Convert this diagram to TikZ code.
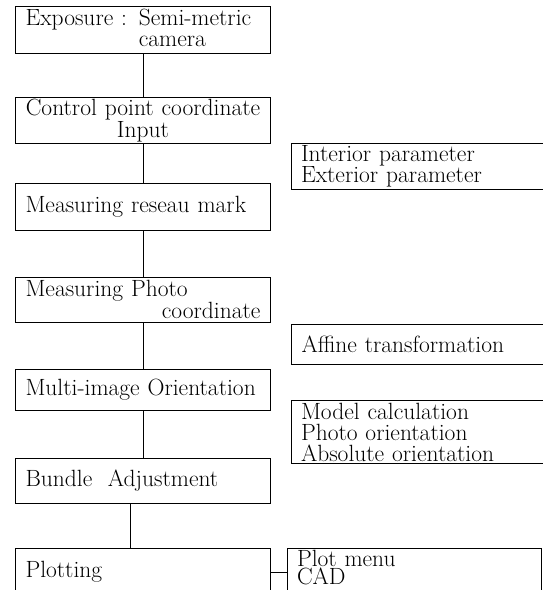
\documentclass[tikz,border=0pt]{standalone}
\begin{document}
\begin{tikzpicture}[x=1pt, y=-1pt,
  stepbox/.style={draw, line width=1pt, text width=235pt, inner xsep=10pt, inner ysep=2pt, align=left, font=\fontsize{23.5}{20}\selectfont},
  sidebox/.style={draw, line width=1pt, text width=237pt, inner xsep=10pt, inner ysep=2pt, align=left, font=\fontsize{23.5}{21}\selectfont}
]
  \useasboundingbox (0,0) rectangle (543,590);

  % Main column
  \node[stepbox, minimum height=44pt] (expo) at (143,30) {Exposure : Semi-metric\\\phantom{Exposure : }camera};
  \node[stepbox, minimum height=45pt, align=center] (ctrl) at (143,120.5) {Control point coordinate\\Input};
  \node[stepbox, minimum height=47pt] (reseau) at (143,206.5) {Measuring reseau\ mark};
  \node[stepbox, minimum height=45pt] (photo) at (143,299.5) {Measuring Photo\\\hspace*{\fill}coordinate};
  \node[stepbox, minimum height=41pt] (multi) at (143,389.5) {Multi-image Orientation};
  \node[stepbox, minimum height=45pt] (bundle) at (143,480.5) {Bundle\ \ Adjustment};
  \node[stepbox, minimum height=48pt] (plotting) at (143,572) {Plotting};

  % Side column
  \node[sidebox, minimum height=43pt] (param) at (419.5,166.5) {Interior parameter\\Exterior parameter};
  \node[sidebox, minimum height=40pt] (affine) at (420,344) {Affine transformation};
  \node[sidebox, minimum height=60pt] (model) at (419.5,432) {Model calculation\\Photo orientation\\Absolute orientation};
  \node[sidebox, text width=234pt, minimum height=44pt, anchor=north, font=\fontsize{23.5}{18}\selectfont] (plotmenu) at (414,548) {Plot menu\\CAD\vspace{8pt}};

  % Connectors
  \draw[line width=1pt] (expo) -- (ctrl);
  \draw[line width=1pt] (ctrl) -- (reseau);
  \draw[line width=1pt] (reseau) -- (photo);
  \draw[line width=1pt] (photo) -- (multi);
  \draw[line width=1pt] (multi) -- (bundle);
  \draw[line width=1pt] ([xshift=-13pt]bundle.south) -- ([xshift=-13pt]plotting.north);
  \draw[line width=1pt] (plotting) -- (plotting -| plotmenu.west);
\end{tikzpicture}
\end{document}
